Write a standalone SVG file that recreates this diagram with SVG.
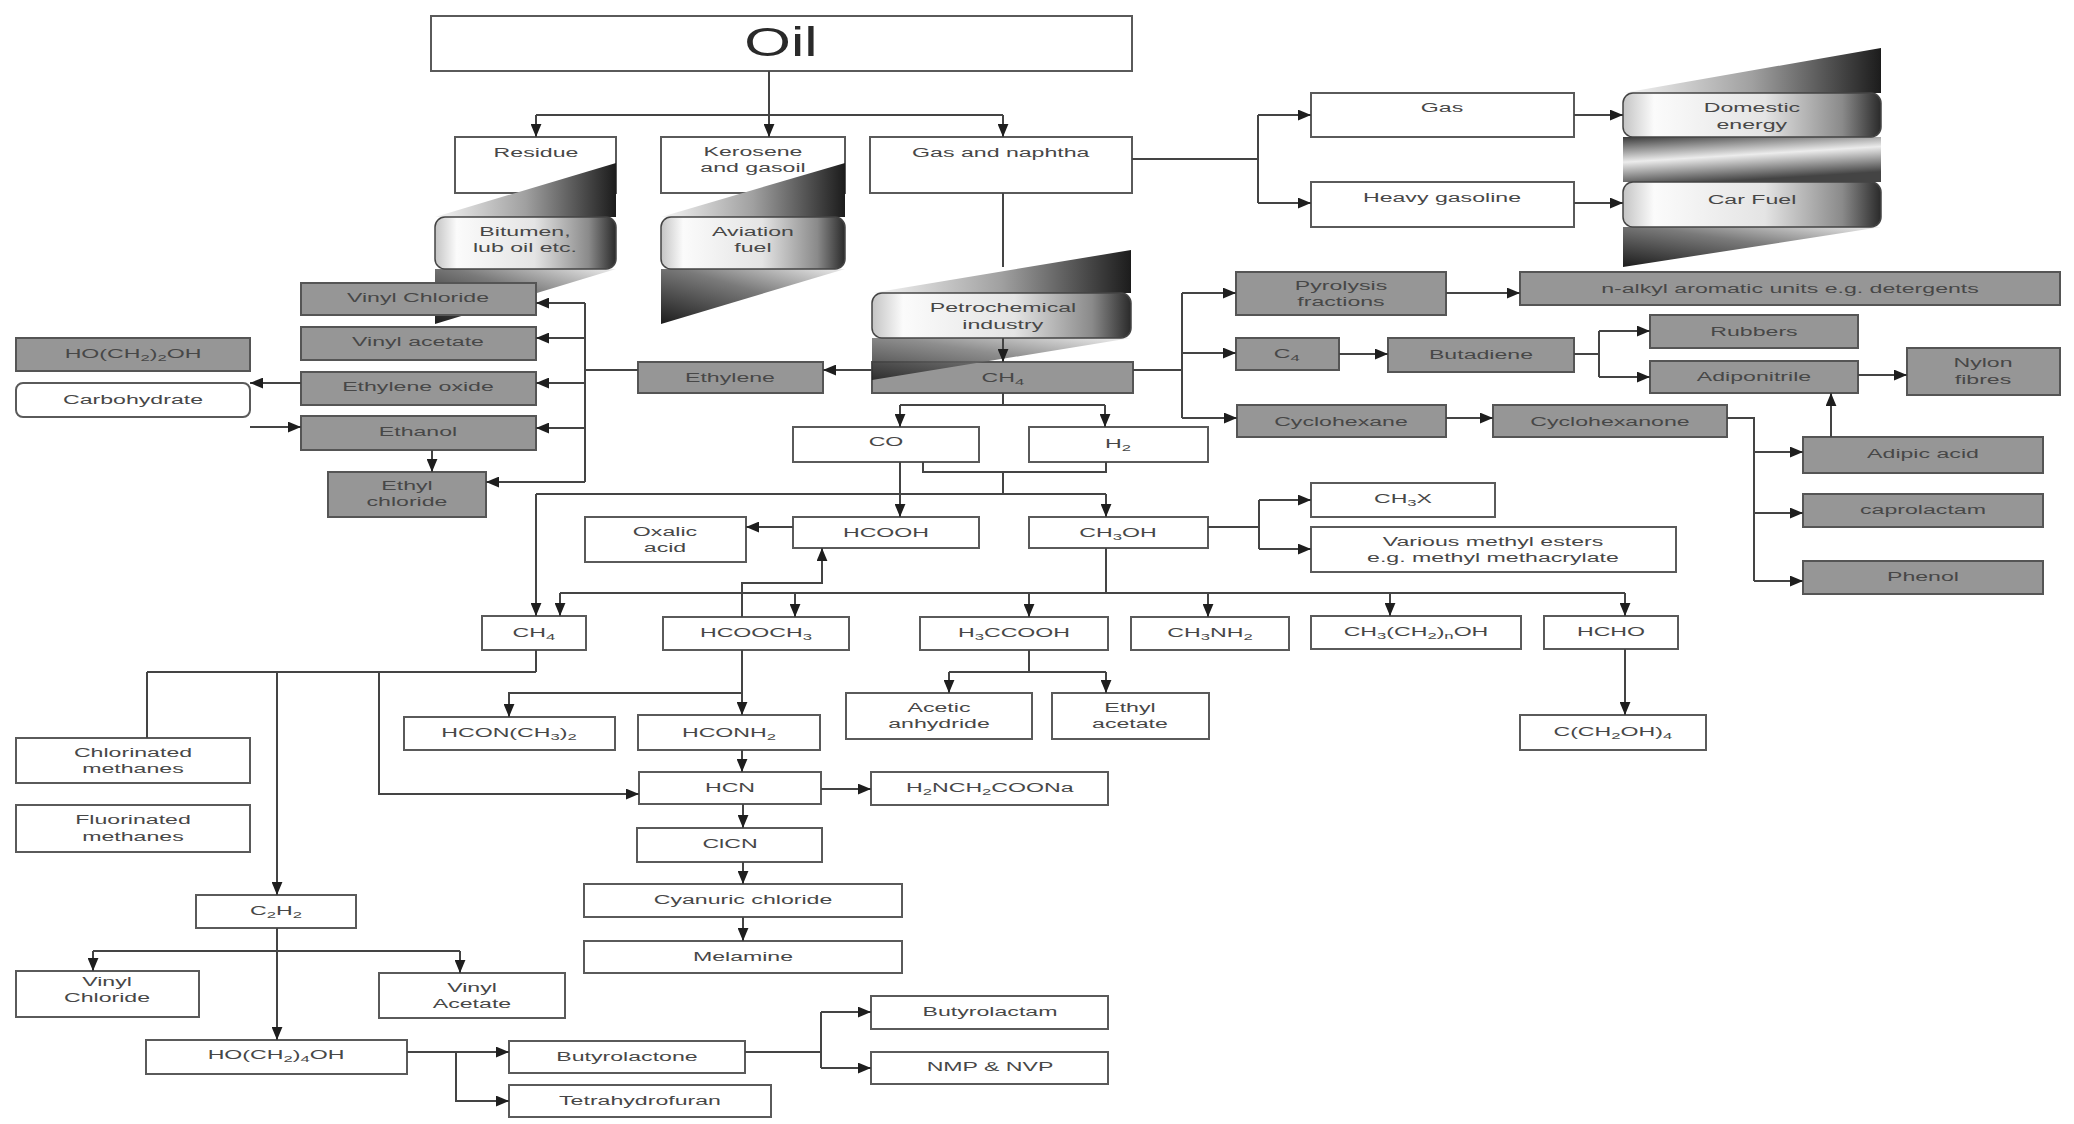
<svg xmlns="http://www.w3.org/2000/svg" width="2074" height="1124" viewBox="0 0 2074 1124">
<defs>
<style>
.b{fill:#fff;stroke:#5a5a5a;stroke-width:2}
.g{fill:#969696;stroke:#555;stroke-width:2}
.r{fill:url(#boxGrad);stroke:#444;stroke-width:1.5}
.t{font-family:"Liberation Sans",Arial,sans-serif;font-size:12.5px;fill:#474747;text-anchor:middle;transform-box:fill-box;transform-origin:center;transform:scaleX(1.85)}
.o{font-family:"Liberation Sans",Arial,sans-serif;font-size:40px;fill:#2a2a2a;text-anchor:middle;transform-box:fill-box;transform-origin:center;transform:scaleX(1.5)}
.s{font-size:9px}
.c path{fill:none;stroke:#444;stroke-width:2}
.c .a{marker-end:url(#ah)}
</style>
<marker id="ah" viewBox="0 0 12 10" refX="12" refY="5" markerWidth="13" markerHeight="11" markerUnits="userSpaceOnUse" orient="auto"><path d="M0,0L12,5L0,10z" fill="#1e1e1e"/></marker>
<linearGradient id="boxGrad" x1="0" y1="0" x2="1" y2="0">
<stop offset="0" stop-color="#c4c4c4"/><stop offset="0.12" stop-color="#fbfbfb"/><stop offset="0.55" stop-color="#e4e4e4"/><stop offset="0.85" stop-color="#8a8a8a"/><stop offset="1" stop-color="#2a2a2a"/>
</linearGradient>
<linearGradient id="triR" x1="0" y1="0" x2="1" y2="0">
<stop offset="0" stop-color="#f6f6f6"/><stop offset="0.5" stop-color="#a0a0a0"/><stop offset="1" stop-color="#1c1c1c"/>
</linearGradient>
<linearGradient id="triL" x1="0" y1="1" x2="1" y2="0">
<stop offset="0" stop-color="#1c1c1c"/><stop offset="0.55" stop-color="#7a7a7a"/><stop offset="1" stop-color="#ededed"/>
</linearGradient>
<linearGradient id="band" x1="0" y1="0" x2="0.35" y2="1">
<stop offset="0" stop-color="#3a3a3a"/><stop offset="0.5" stop-color="#ececec"/><stop offset="1" stop-color="#444"/>
</linearGradient>
</defs>
<rect width="2074" height="1124" fill="#fff"/>

<!-- white boxes -->
<g id="oil"><rect class="b" x="431" y="16" width="701" height="55"/><text class="o" x="781" y="56">Oil</text></g>
<g id="residue"><rect class="b" x="455" y="137" width="161" height="56"/><text class="t" x="536" y="157">Residue</text></g>
<g id="kerosene"><rect class="b" x="661" y="137" width="184" height="56"/><text class="t" x="753" y="156">Kerosene</text><text class="t" x="753" y="172">and gasoil</text></g>
<g id="gas-naphtha"><rect class="b" x="870" y="137" width="262" height="56"/><text class="t" x="1001" y="157">Gas and naphtha</text></g>
<g id="gas"><rect class="b" x="1311" y="93" width="263" height="44"/><text class="t" x="1442" y="112">Gas</text></g>
<g id="heavy-gasoline"><rect class="b" x="1311" y="182" width="263" height="45"/><text class="t" x="1442" y="202">Heavy gasoline</text></g>

<!-- methane / syngas chemistry -->
<g id="co"><rect class="b" x="793" y="427" width="186" height="35"/><text class="t" x="886" y="446">CO</text></g>
<g id="h2"><rect class="b" x="1029" y="427" width="179" height="35"/><text class="t" x="1118" y="448">H<tspan class="s" dy="3">2</tspan></text></g>
<g id="hcooh"><rect class="b" x="793" y="517" width="186" height="31"/><text class="t" x="886" y="537">HCOOH</text></g>
<g id="ch3oh"><rect class="b" x="1029" y="517" width="179" height="31"/><text class="t" x="1118" y="537">CH<tspan class="s" dy="3">3</tspan><tspan dy="-3">OH</tspan></text></g>
<g id="oxalic"><rect class="b" x="585" y="517" width="161" height="45"/><text class="t" x="665" y="536">Oxalic</text><text class="t" x="665" y="552">acid</text></g>
<g id="ch3x"><rect class="b" x="1311" y="483" width="184" height="34"/><text class="t" x="1403" y="503">CH<tspan class="s" dy="3">3</tspan><tspan dy="-3">X</tspan></text></g>
<g id="methyl-esters"><rect class="b" x="1311" y="527" width="365" height="45"/><text class="t" x="1493" y="546">Various methyl esters</text><text class="t" x="1493" y="562">e.g. methyl  methacrylate</text></g>
<g id="ch4-b"><rect class="b" x="482" y="616" width="104" height="34"/><text class="t" x="534" y="637">CH<tspan class="s" dy="3">4</tspan></text></g>
<g id="hcooch3"><rect class="b" x="663" y="617" width="186" height="33"/><text class="t" x="756" y="637">HCOOCH<tspan class="s" dy="3">3</tspan></text></g>
<g id="h3ccooh"><rect class="b" x="920" y="617" width="188" height="33"/><text class="t" x="1014" y="637">H<tspan class="s" dy="3">3</tspan><tspan dy="-3">CCOOH</tspan></text></g>
<g id="ch3nh2"><rect class="b" x="1131" y="617" width="158" height="33"/><text class="t" x="1210" y="637">CH<tspan class="s" dy="3">3</tspan><tspan dy="-3">NH</tspan><tspan class="s" dy="3">2</tspan></text></g>
<g id="higher-alcohols"><rect class="b" x="1311" y="616" width="210" height="33"/><text class="t" x="1416" y="636">CH<tspan class="s" dy="3">3</tspan><tspan dy="-3">(CH</tspan><tspan class="s" dy="3">2</tspan><tspan dy="-3">)</tspan><tspan class="s" dy="3">n</tspan><tspan dy="-3">OH</tspan></text></g>
<g id="hcho"><rect class="b" x="1544" y="616" width="134" height="33"/><text class="t" x="1611" y="636">HCHO</text></g>
<g id="dmf"><rect class="b" x="404" y="717" width="211" height="33"/><text class="t" x="509" y="737">HCON(CH<tspan class="s" dy="3">3</tspan><tspan dy="-3">)</tspan><tspan class="s" dy="3">2</tspan></text></g>
<g id="formamide"><rect class="b" x="638" y="715" width="182" height="35"/><text class="t" x="729" y="737">HCONH<tspan class="s" dy="3">2</tspan></text></g>
<g id="acetic-anhydride"><rect class="b" x="846" y="693" width="186" height="46"/><text class="t" x="939" y="712">Acetic</text><text class="t" x="939" y="728">anhydride</text></g>
<g id="ethyl-acetate"><rect class="b" x="1052" y="693" width="157" height="46"/><text class="t" x="1130" y="712">Ethyl</text><text class="t" x="1130" y="728">acetate</text></g>
<g id="pentaerythritol"><rect class="b" x="1520" y="715" width="186" height="35"/><text class="t" x="1613" y="736">C(CH<tspan class="s" dy="3">2</tspan><tspan dy="-3">OH)</tspan><tspan class="s" dy="3">4</tspan></text></g>
<g id="chlorinated"><rect class="b" x="16" y="738" width="234" height="45"/><text class="t" x="133" y="757">Chlorinated</text><text class="t" x="133" y="773">methanes</text></g>
<g id="fluorinated"><rect class="b" x="16" y="805" width="234" height="47"/><text class="t" x="133" y="824">Fluorinated</text><text class="t" x="133" y="841">methanes</text></g>
<g id="hcn"><rect class="b" x="639" y="772" width="182" height="32"/><text class="t" x="730" y="792">HCN</text></g>
<g id="glycinate"><rect class="b" x="871" y="772" width="237" height="33"/><text class="t" x="990" y="792">H<tspan class="s" dy="3">2</tspan><tspan dy="-3">NCH</tspan><tspan class="s" dy="3">2</tspan><tspan dy="-3">COONa</tspan></text></g>
<g id="clcn"><rect class="b" x="637" y="828" width="185" height="34"/><text class="t" x="730" y="848">ClCN</text></g>
<g id="cyanuric"><rect class="b" x="584" y="884" width="318" height="33"/><text class="t" x="743" y="904">Cyanuric chloride</text></g>
<g id="melamine"><rect class="b" x="584" y="941" width="318" height="32"/><text class="t" x="743" y="961">Melamine</text></g>
<g id="c2h2"><rect class="b" x="196" y="895" width="160" height="33"/><text class="t" x="276" y="915">C<tspan class="s" dy="3">2</tspan><tspan dy="-3">H</tspan><tspan class="s" dy="3">2</tspan></text></g>
<g id="vinyl-chloride-b"><rect class="b" x="16" y="971" width="183" height="46"/><text class="t" x="107" y="986">Vinyl</text><text class="t" x="107" y="1002">Chloride</text></g>
<g id="vinyl-acetate-b"><rect class="b" x="379" y="973" width="186" height="45"/><text class="t" x="472" y="992">Vinyl</text><text class="t" x="472" y="1008">Acetate</text></g>
<g id="butanediol"><rect class="b" x="146" y="1040" width="261" height="34"/><text class="t" x="276" y="1059">HO(CH<tspan class="s" dy="3">2</tspan><tspan dy="-3">)</tspan><tspan class="s" dy="3">4</tspan><tspan dy="-3">OH</tspan></text></g>
<g id="butyrolactone"><rect class="b" x="509" y="1041" width="236" height="32"/><text class="t" x="627" y="1061">Butyrolactone</text></g>
<g id="thf"><rect class="b" x="509" y="1085" width="262" height="32"/><text class="t" x="640" y="1105">Tetrahydrofuran</text></g>
<g id="butyrolactam"><rect class="b" x="871" y="996" width="237" height="33"/><text class="t" x="990" y="1016">Butyrolactam</text></g>
<g id="nmp-nvp"><rect class="b" x="871" y="1052" width="237" height="32"/><text class="t" x="990" y="1071">NMP &amp; NVP</text></g>
<g id="carbohydrate"><rect class="b" x="16" y="383" width="234" height="34" rx="7"/><text class="t" x="133" y="404">Carbohydrate</text></g>

<!-- methane box sits under the petrochemical ribbon -->
<g id="ch4"><rect class="g" x="872" y="362" width="261" height="31"/><text class="t" x="1003" y="382">CH<tspan class="s" dy="3">4</tspan></text></g>

<!-- twisted ribbons with the end products -->
<g id="ribbons">
<polygon points="616,163 616,217 435,217" fill="url(#triR)"/>
<polygon points="435,269 616,269 435,324" fill="url(#triL)"/>
<polygon points="845,163 845,217 661,217" fill="url(#triR)"/>
<polygon points="661,269 845,269 661,324" fill="url(#triL)"/>
<polygon points="1131,250 1131,293 872,293" fill="url(#triR)"/>
<polygon points="872,338 1131,338 872,380" fill="url(#triL)" opacity="0.85"/>
<polygon points="1881,48 1881,93 1623,93" fill="url(#triR)"/>
<rect x="1623" y="137" width="258" height="45" fill="url(#band)"/>
<polygon points="1623,227 1881,227 1623,267" fill="url(#triL)"/>
</g>
<g id="bitumen"><rect class="r" x="435" y="217" width="181" height="52" rx="10"/><text class="t" x="525" y="236">Bitumen,</text><text class="t" x="525" y="252">lub oil etc.</text></g>
<g id="aviation"><rect class="r" x="661" y="217" width="184" height="52" rx="10"/><text class="t" x="753" y="236">Aviation</text><text class="t" x="753" y="252">fuel</text></g>
<g id="petrochemical"><rect class="r" x="872" y="293" width="259" height="45" rx="10"/><text class="t" x="1003" y="312">Petrochemical</text><text class="t" x="1003" y="329">industry</text></g>
<g id="domestic"><rect class="r" x="1623" y="93" width="258" height="44" rx="10"/><text class="t" x="1752" y="112">Domestic</text><text class="t" x="1752" y="129">energy</text></g>
<g id="car-fuel"><rect class="r" x="1623" y="182" width="258" height="45" rx="10"/><text class="t" x="1752" y="204">Car Fuel</text></g>

<!-- grey boxes -->
<g id="vinyl-chloride"><rect class="g" x="301" y="283" width="235" height="32"/><text class="t" x="418" y="302">Vinyl Chloride</text></g>
<g id="vinyl-acetate"><rect class="g" x="301" y="327" width="235" height="33"/><text class="t" x="418" y="346">Vinyl acetate</text></g>
<g id="ethylene-oxide"><rect class="g" x="301" y="372" width="235" height="33"/><text class="t" x="418" y="391">Ethylene oxide</text></g>
<g id="ethanol"><rect class="g" x="301" y="416" width="235" height="34"/><text class="t" x="418" y="436">Ethanol</text></g>
<g id="ethyl-chloride"><rect class="g" x="328" y="472" width="158" height="45"/><text class="t" x="407" y="490">Ethyl</text><text class="t" x="407" y="506">chloride</text></g>
<g id="glycol"><rect class="g" x="16" y="338" width="234" height="33"/><text class="t" x="133" y="358">HO(CH<tspan class="s" dy="3">2</tspan><tspan dy="-3">)</tspan><tspan class="s" dy="3">2</tspan><tspan dy="-3">OH</tspan></text></g>
<g id="ethylene"><rect class="g" x="638" y="362" width="185" height="31"/><text class="t" x="730" y="382">Ethylene</text></g>
<g id="aromatics"><rect class="g" x="1236" y="272" width="210" height="43"/><text class="t" x="1341" y="290">Pyrolysis</text><text class="t" x="1341" y="306">fractions</text></g>
<g id="alkyl-aromatics"><rect class="g" x="1520" y="272" width="540" height="33"/><text class="t" x="1790" y="293">n-alkyl aromatic units e.g. detergents</text></g>
<g id="c4"><rect class="g" x="1236" y="338" width="103" height="32"/><text class="t" x="1287" y="358">C<tspan class="s" dy="3">4</tspan></text></g>
<g id="butadiene"><rect class="g" x="1388" y="338" width="186" height="34"/><text class="t" x="1481" y="359">Butadiene</text></g>
<g id="rubbers"><rect class="g" x="1650" y="315" width="208" height="33"/><text class="t" x="1754" y="336">Rubbers</text></g>
<g id="adiponitrile"><rect class="g" x="1650" y="361" width="208" height="32"/><text class="t" x="1754" y="381">Adiponitrile</text></g>
<g id="nylon"><rect class="g" x="1907" y="348" width="153" height="47"/><text class="t" x="1983" y="367">Nylon</text><text class="t" x="1983" y="384">fibres</text></g>
<g id="cyclohexane"><rect class="g" x="1237" y="405" width="209" height="32"/><text class="t" x="1341" y="426">Cyclohexane</text></g>
<g id="cyclohexanone"><rect class="g" x="1493" y="405" width="234" height="32"/><text class="t" x="1610" y="426">Cyclohexanone</text></g>
<g id="adipic"><rect class="g" x="1803" y="437" width="240" height="36"/><text class="t" x="1923" y="458">Adipic acid</text></g>
<g id="caprolactam"><rect class="g" x="1803" y="494" width="240" height="33"/><text class="t" x="1923" y="514">caprolactam</text></g>
<g id="phenol"><rect class="g" x="1803" y="561" width="240" height="33"/><text class="t" x="1923" y="581">Phenol</text></g>

<!-- connectors -->
<g id="connectors" class="c">
<path d="M536,115H1003"/>
<path class="a" d="M769,71V137"/>
<path class="a" d="M536,115V137"/>
<path class="a" d="M1003,115V137"/>
<path d="M1132,159H1258M1258,115V203"/>
<path class="a" d="M1258,115H1311"/>
<path class="a" d="M1258,203H1311"/>
<path class="a" d="M1574,115H1623"/>
<path class="a" d="M1574,203H1623"/>
<path d="M1003,193V267"/>
<path class="a" d="M1003,338V362"/>
<path class="a" d="M872,370H823"/>
<path d="M638,370H585M585,303V482"/>
<path class="a" d="M585,303H536"/>
<path class="a" d="M585,338H536"/>
<path class="a" d="M585,383H536"/>
<path class="a" d="M585,428H536"/>
<path class="a" d="M585,482H486"/>
<path class="a" d="M301,383H250"/>
<path class="a" d="M250,427H301"/>
<path class="a" d="M432,450V472"/>
<path d="M1133,370H1182M1182,293V418"/>
<path class="a" d="M1182,293H1236"/>
<path class="a" d="M1182,353H1236"/>
<path class="a" d="M1182,418H1237"/>
<path class="a" d="M1446,293H1520"/>
<path class="a" d="M1339,354H1388"/>
<path d="M1574,354H1599M1599,331V377"/>
<path class="a" d="M1599,331H1650"/>
<path class="a" d="M1599,377H1650"/>
<path class="a" d="M1858,375H1907"/>
<path class="a" d="M1831,437V393"/>
<path class="a" d="M1446,418H1493"/>
<path d="M1727,418H1754V581"/>
<path class="a" d="M1754,452H1803"/>
<path class="a" d="M1754,513H1803"/>
<path class="a" d="M1754,581H1803"/>
<path d="M1003,393V405M900,405H1105"/>
<path class="a" d="M900,405V427"/>
<path class="a" d="M1105,405V427"/>
<path d="M923,462V472H1106V462M1003,472V494M536,494H1106"/>
<path class="a" d="M1106,494V517"/>
<path class="a" d="M536,494V616"/>
<path class="a" d="M900,462V517"/>
<path class="a" d="M793,527H746"/>
<path d="M1208,527H1259M1259,500V549"/>
<path class="a" d="M1259,500H1311"/>
<path class="a" d="M1259,549H1311"/>
<path d="M1106,548V593M560,593H1625"/>
<path class="a" d="M560,593V616"/>
<path class="a" d="M795,593V617"/>
<path class="a" d="M1029,593V617"/>
<path class="a" d="M1208,593V617"/>
<path class="a" d="M1390,593V616"/>
<path class="a" d="M1625,593V616"/>
<path class="a" d="M742,617V583H822V548"/>
<path class="a" d="M742,650V715"/>
<path class="a" d="M742,693H509V717"/>
<path d="M1029,650V672M949,672H1106"/>
<path class="a" d="M949,672V693"/>
<path class="a" d="M1106,672V693"/>
<path class="a" d="M742,750V772"/>
<path class="a" d="M821,789H871"/>
<path class="a" d="M743,804V828"/>
<path class="a" d="M743,862V884"/>
<path class="a" d="M743,917V941"/>
<path class="a" d="M1625,649V715"/>
<path d="M536,650V672M147,672H536M147,672V738"/>
<path class="a" d="M277,672V895"/>
<path class="a" d="M379,672V794H639"/>
<path class="a" d="M277,928V1040"/>
<path d="M93,951H460"/>
<path class="a" d="M93,951V971"/>
<path class="a" d="M460,951V973"/>
<path class="a" d="M407,1052H509"/>
<path class="a" d="M456,1052V1101H509"/>
<path d="M745,1052H821M821,1012V1068"/>
<path class="a" d="M821,1012H871"/>
<path class="a" d="M821,1068H871"/>
</g>
</svg>
